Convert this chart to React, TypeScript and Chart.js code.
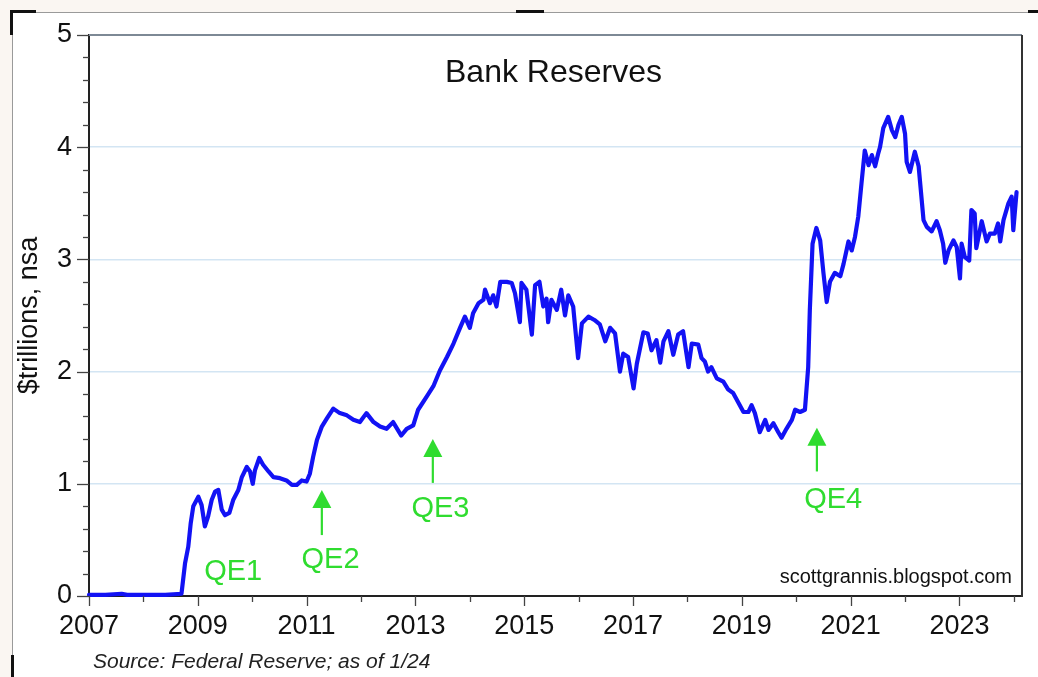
import React, { useEffect, useRef } from 'react';
import { Chart, registerables } from 'chart.js';

Chart.register(...registerables);

// Decimal years of each observation
const dates = [
  2007.00, 2007.30, 2007.60, 2007.70, 2008.00, 2008.40, 2008.70, 2008.765, 2008.825, 2008.87,
  2008.917, 2009.01, 2009.07, 2009.13, 2009.19, 2009.255, 2009.316, 2009.377, 2009.44, 2009.50,
  2009.58, 2009.65, 2009.745, 2009.81, 2009.90, 2009.96, 2010.01, 2010.05, 2010.13, 2010.20,
  2010.30, 2010.39, 2010.51, 2010.63, 2010.73, 2010.82, 2010.91, 2011.00, 2011.06, 2011.12,
  2011.19, 2011.28, 2011.37, 2011.49, 2011.61, 2011.74, 2011.86, 2011.98, 2012.10, 2012.23,
  2012.35, 2012.47, 2012.59, 2012.74, 2012.84, 2012.96, 2013.05, 2013.21, 2013.33, 2013.45,
  2013.58, 2013.70, 2013.82, 2013.91, 2014.00, 2014.06, 2014.16, 2014.25, 2014.28, 2014.37,
  2014.43, 2014.49, 2014.56, 2014.68, 2014.77, 2014.83, 2014.92, 2014.95, 2015.04, 2015.14,
  2015.20, 2015.28, 2015.35, 2015.41, 2015.44, 2015.50, 2015.60, 2015.68, 2015.75, 2015.81,
  2015.90, 2015.99, 2016.06, 2016.18, 2016.29, 2016.39, 2016.49, 2016.58, 2016.67, 2016.76,
  2016.82, 2016.91, 2017.01, 2017.07, 2017.19, 2017.27, 2017.34, 2017.43, 2017.50, 2017.56,
  2017.65, 2017.74, 2017.83, 2017.92, 2018.02, 2018.08, 2018.20, 2018.26, 2018.32, 2018.38,
  2018.44, 2018.54, 2018.66, 2018.75, 2018.84, 2018.94, 2019.03, 2019.12, 2019.18, 2019.24,
  2019.33, 2019.43, 2019.49, 2019.58, 2019.67, 2019.73, 2019.82, 2019.92, 2019.98, 2020.07,
  2020.16, 2020.22, 2020.25, 2020.30, 2020.37, 2020.44, 2020.50, 2020.56, 2020.62, 2020.71,
  2020.81, 2020.87, 2020.96, 2021.02, 2021.08, 2021.14, 2021.20, 2021.26, 2021.33, 2021.39,
  2021.45, 2021.51, 2021.54, 2021.60, 2021.69, 2021.76, 2021.82, 2021.88, 2021.94, 2022.00,
  2022.03, 2022.09, 2022.18, 2022.25, 2022.34, 2022.40, 2022.49, 2022.58, 2022.64, 2022.70,
  2022.74, 2022.80, 2022.89, 2022.95, 2023.01, 2023.04, 2023.10, 2023.18, 2023.22, 2023.28,
  2023.31, 2023.41, 2023.50, 2023.56, 2023.65, 2023.71, 2023.75, 2023.81, 2023.90, 2023.96,
  2023.99, 2024.05,
];

// Bank reserves, $ trillions (nsa)
const reserves = [
  0.01, 0.01, 0.02, 0.01, 0.01, 0.01, 0.02, 0.29, 0.44, 0.65,
  0.80, 0.885, 0.81, 0.62, 0.71, 0.855, 0.93, 0.945, 0.77, 0.72,
  0.74, 0.855, 0.945, 1.06, 1.15, 1.11, 1.00, 1.12, 1.23, 1.17,
  1.11, 1.06, 1.05, 1.03, 0.99, 0.99, 1.03, 1.02, 1.09, 1.24,
  1.39, 1.51, 1.58, 1.67, 1.63, 1.61, 1.57, 1.55, 1.63, 1.55,
  1.51, 1.49, 1.55, 1.43, 1.49, 1.52, 1.66, 1.78, 1.87, 2.01,
  2.13, 2.25, 2.39, 2.49, 2.39, 2.52, 2.61, 2.64, 2.73, 2.61,
  2.68, 2.58, 2.80, 2.80, 2.79, 2.70, 2.44, 2.79, 2.73, 2.33,
  2.77, 2.80, 2.58, 2.65, 2.44, 2.64, 2.55, 2.73, 2.50, 2.68,
  2.58, 2.12, 2.43, 2.49, 2.46, 2.42, 2.27, 2.39, 2.34, 2.00,
  2.16, 2.13, 1.85, 2.07, 2.35, 2.34, 2.19, 2.28, 2.08, 2.27,
  2.36, 2.15, 2.33, 2.36, 2.04, 2.25, 2.24, 2.12, 2.09, 2.00,
  2.04, 1.94, 1.91, 1.84, 1.81, 1.72, 1.64, 1.64, 1.70, 1.63,
  1.46, 1.57, 1.48, 1.54, 1.46, 1.41, 1.49, 1.57, 1.66, 1.64,
  1.66, 2.04, 2.55, 3.14, 3.28, 3.17, 2.88, 2.62, 2.80, 2.88,
  2.85, 2.96, 3.16, 3.08, 3.20, 3.38, 3.68, 3.97, 3.84, 3.93,
  3.83, 3.95, 4.00, 4.17, 4.27, 4.15, 4.09, 4.20, 4.27, 4.12,
  3.87, 3.78, 3.96, 3.83, 3.35, 3.29, 3.25, 3.34, 3.26, 3.14,
  2.97, 3.08, 3.17, 3.11, 2.83, 3.14, 3.02, 2.99, 3.44, 3.41,
  3.10, 3.34, 3.16, 3.23, 3.23, 3.32, 3.16, 3.35, 3.50, 3.56,
  3.26, 3.60,
];

const X_MIN = 2007;
const X_MAX = 2024.15;
const Y_MIN = 0;
const Y_MAX = 5;

const qeLabels = ['QE1', 'QE2', 'QE3', 'QE4'];
const qeTextX = [2009.65, 2011.44, 2013.46, 2020.68];
const qeTextY = [0.143, 0.25, 0.704, 0.785];
const qeArrowX = [NaN, 2011.28, 2013.32, 2020.38];
const qeArrowTip = [NaN, 0.945, 1.40, 1.50];
const qeArrowBase = [NaN, 0.543, 1.008, 1.11];

const titleText = 'Bank Reserves';
const yTitleText = '$trillions, nsa';
const watermarkText = 'scottgrannis.blogspot.com';
const sourceText = 'Source: Federal Reserve; as of 1/24';

const FONT = "'Liberation Sans', Arial, sans-serif";
const GREEN = '#2fdc2f';
const LINE_BLUE = '#1212f4';

const decorPlugin = {
  id: 'decor',
  afterDraw(chart: any) {
    const { ctx, chartArea } = chart;
    const { left, right, top, bottom } = chartArea;
    const xs = chart.scales.x;
    const ys = chart.scales.y;
    ctx.save();

    // top & right frame
    ctx.lineWidth = 2;
    ctx.strokeStyle = '#7d8995';
    ctx.beginPath();
    ctx.moveTo(left, top);
    ctx.lineTo(right, top);
    ctx.stroke();
    ctx.strokeStyle = '#333';
    ctx.beginPath();
    ctx.moveTo(right, top);
    ctx.lineTo(right, bottom + 1);
    ctx.stroke();

    // y tick marks (major + minor)
    ctx.strokeStyle = '#444';
    ctx.lineWidth = 1.3;
    for (let i = 0; i <= 25; i++) {
      const v = Y_MIN + i * 0.2;
      const py = Math.round(ys.getPixelForValue(v)) + 0.5;
      const len = i % 5 === 0 ? 12 : 6;
      ctx.beginPath();
      ctx.moveTo(left - len, py);
      ctx.lineTo(left, py);
      ctx.stroke();
    }
    // x tick marks
    for (let yr = 2007; yr <= 2024; yr++) {
      const px = Math.round(xs.getPixelForValue(yr)) + 0.5;
      const len = yr % 2 === 1 ? 10 : 6;
      ctx.beginPath();
      ctx.moveTo(px, bottom);
      ctx.lineTo(px, bottom + len);
      ctx.stroke();
    }

    // title
    ctx.fillStyle = '#111';
    ctx.font = `32px ${FONT}`;
    ctx.textAlign = 'center';
    ctx.textBaseline = 'alphabetic';
    ctx.fillText(titleText, (left + right) / 2 - 2, 82);

    // watermark
    ctx.font = `20px ${FONT}`;
    ctx.textAlign = 'right';
    ctx.fillText(watermarkText, right - 10, 583);

    // source
    ctx.font = `italic 21px ${FONT}`;
    ctx.textAlign = 'left';
    ctx.fillStyle = '#222';
    ctx.fillText(sourceText, 93, 668);

    // QE annotations
    ctx.fillStyle = GREEN;
    ctx.strokeStyle = GREEN;
    ctx.font = `29px ${FONT}`;
    ctx.textAlign = 'center';
    for (let i = 0; i < qeLabels.length; i++) {
      ctx.fillText(qeLabels[i], xs.getPixelForValue(qeTextX[i]), ys.getPixelForValue(qeTextY[i]));
      if (!isNaN(qeArrowX[i])) {
        const ax = xs.getPixelForValue(qeArrowX[i]);
        const tip = ys.getPixelForValue(qeArrowTip[i]);
        const base = ys.getPixelForValue(qeArrowBase[i]);
        ctx.lineWidth = 2.2;
        ctx.beginPath();
        ctx.moveTo(ax, base);
        ctx.lineTo(ax, tip + 12);
        ctx.stroke();
        ctx.beginPath();
        ctx.moveTo(ax, tip);
        ctx.lineTo(ax - 9.5, tip + 18);
        ctx.lineTo(ax + 9.5, tip + 18);
        ctx.closePath();
        ctx.fill();
      }
    }
    ctx.restore();
  },
};

export default function App() {
  const canvasRef = useRef<HTMLCanvasElement | null>(null);

  useEffect(() => {
    const canvas = canvasRef.current;
    if (!canvas) return;
    const chart = new Chart(canvas, {
      type: 'line',
      data: {
        datasets: [
          {
            data: dates.map((d, i) => ({ x: d, y: reserves[i] })),
            borderColor: LINE_BLUE,
            borderWidth: 4.2,
            pointRadius: 0,
            tension: 0,
            fill: false,
            clip: false as any,
            borderJoinStyle: 'round',
            borderCapStyle: 'round',
          },
        ],
      },
      options: {
        animation: false,
        responsive: false,
        layout: { padding: { top: 35, right: 16, left: 0, bottom: 0 } },
        plugins: {
          legend: { display: false },
          tooltip: { enabled: false },
        },
        scales: {
          x: {
            type: 'linear',
            min: X_MIN,
            max: X_MAX,
            afterFit: (s: any) => {
              s.height = 81;
            },
            grid: { drawOnChartArea: false, drawTicks: false },
            border: { color: '#222', width: 2 },
            ticks: {
              stepSize: 1,
              includeBounds: false,
              autoSkip: false,
              maxRotation: 0,
              padding: 14,
              color: '#111',
              font: { family: FONT, size: 27 },
              callback: (v: any) => {
                const n = Math.round(Number(v));
                return n % 2 === 1 ? String(n) : '';
              },
            },
          },
          y: {
            type: 'linear',
            min: Y_MIN,
            max: Y_MAX,
            afterFit: (s: any) => {
              s.width = 89;
            },
            grid: {
              drawTicks: false,
              lineWidth: 1.5,
              color: (c: any) =>
                c.tick && (c.tick.value === Y_MIN || c.tick.value === Y_MAX)
                  ? 'rgba(0,0,0,0)'
                  : '#d3e5f3',
            },
            border: { color: '#222', width: 2 },
            title: {
              display: true,
              text: yTitleText,
              color: '#111',
              font: { family: FONT, size: 27 },
              padding: { top: 13, bottom: 0 },
            },
            ticks: {
              stepSize: 1,
              padding: 17,
              color: '#111',
              font: { family: FONT, size: 27 },
              callback: (v: any) => String(v),
            },
          },
        },
      },
      plugins: [decorPlugin],
    });
    return () => chart.destroy();
  }, []);

  const mark = (s: React.CSSProperties) => (
    <div style={{ position: 'absolute', background: '#111', ...s }} />
  );

  return (
    <div style={{ position: 'fixed', left: 0, top: 0, width: 1038, height: 677, background: '#faf6f2', overflow: 'hidden' }}>
      <div
        style={{
          position: 'absolute',
          left: 12,
          top: 12,
          right: 0,
          bottom: 0,
          background: '#fff',
          borderTop: '1px solid #9a9a9a',
          borderLeft: '1px solid #9a9a9a',
        }}
      />
      {mark({ left: 10, top: 10, width: 26, height: 3 })}
      {mark({ left: 10, top: 10, width: 3, height: 25 })}
      {mark({ left: 516, top: 10, width: 28, height: 3 })}
      {mark({ left: 1028, top: 10, width: 10, height: 3 })}
      {mark({ left: 11, top: 655, width: 3, height: 22 })}
      <canvas ref={canvasRef} width={1038} height={677} style={{ position: 'absolute', left: 0, top: 0, width: 1038, height: 677 }} />
    </div>
  );
}
